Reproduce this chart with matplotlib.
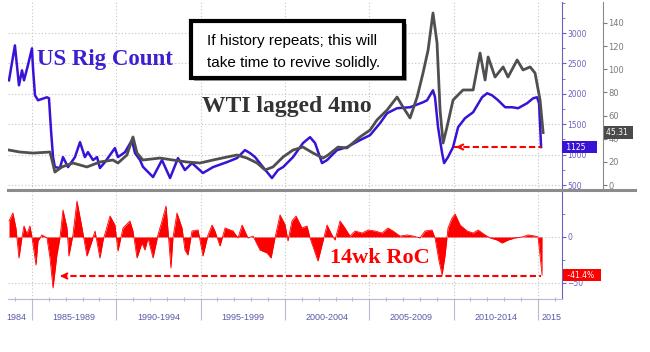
import matplotlib.pyplot as plt
from matplotlib.lines import Line2D
from matplotlib.patches import Rectangle
from matplotlib.ticker import MultipleLocator
import matplotlib.transforms as mtransforms

# US rig count
rig_years = [1983.64, 1983.99, 1984.23, 1984.41, 1984.53, 1984.76, 1985.00, 1985.06, 1985.18, 1985.36,
             1985.89, 1986.01, 1986.13, 1986.25, 1986.36, 1986.66, 1986.84, 1987.14, 1987.55, 1987.85,
             1988.14, 1988.32, 1988.62, 1988.86, 1989.03, 1989.33, 1989.92, 1990.10, 1990.52, 1990.93,
             1991.11, 1991.41, 1991.58, 1992.18, 1992.71, 1993.19, 1993.66, 1994.07, 1994.49, 1995.14,
             1995.74, 1996.57, 1997.16, 1997.63, 1997.93, 1998.23, 1998.70, 1999.23, 1999.59, 1999.89,
             2000.48, 2001.07, 2001.49, 2001.79, 2002.20, 2002.50, 2003.09, 2003.68, 2004.45, 2005.05,
             2005.64, 2006.06, 2006.65, 2007.42, 2008.19, 2008.43, 2008.78, 2008.90, 2009.08, 2009.32,
             2009.44, 2009.67, 2009.97, 2010.27, 2010.68, 2011.16, 2011.69, 2011.99, 2012.28, 2012.64,
             2013.06, 2013.47, 2013.83, 2014.36, 2014.72, 2014.95, 2015.07, 2015.19]
rig_count = [2222, 2796, 2140, 2386, 2222, 2468, 2747, 2435, 1976, 1894,
             1943, 1927, 1402, 959, 795, 779, 959, 795, 959, 1205,
             959, 1041, 910, 959, 779, 877, 1107, 959, 1041, 1238,
             1025, 910, 800, 631, 910, 615, 943, 746, 861, 697,
             795, 877, 943, 1074, 1025, 959, 795, 615, 746, 795,
             959, 1189, 1287, 1189, 861, 910, 1074, 1123, 1238, 1320,
             1517, 1681, 1763, 1779, 1861, 1894, 2058, 1943, 1451, 1025,
             861, 959, 1123, 1451, 1599, 1697, 1943, 2009, 1976, 1894,
             1779, 1779, 1763, 1845, 1927, 1943, 1845, 1125]

# WTI, lagged 4 months
wti_years = [1983.64, 1984.29, 1985.06, 1986.07, 1986.19, 1986.36, 1986.78, 1987.43, 1988.26, 1989.03,
             1989.80, 1990.10, 1990.63, 1990.99, 1991.23, 1991.58, 1992.59, 1993.36, 1994.19, 1994.96,
             1995.74, 1996.57, 1997.16, 1997.75, 1998.35, 1998.82, 1999.29, 1999.89, 2000.48, 2001.07,
             2001.67, 2002.26, 2002.56, 2003.15, 2003.68, 2004.45, 2005.05, 2005.46, 2006.06, 2006.65,
             2007.00, 2007.42, 2007.84, 2008.19, 2008.49, 2008.78, 2009.02, 2009.20, 2009.38, 2009.61,
             2009.97, 2010.56, 2011.16, 2011.57, 2011.87, 2012.05, 2012.46, 2012.94, 2013.23, 2013.77,
             2014.12, 2014.54, 2014.83, 2015.13, 2015.31]
wti_price = [30.2, 28.5, 27.6, 28.5, 21.6, 11.2, 15.6, 19.0, 15.6, 19.9,
             21.6, 19.0, 25.9, 41.5, 27.6, 21.6, 23.3, 21.6, 19.9, 19.0,
             21.6, 24.2, 25.9, 23.3, 19.0, 13.0, 15.6, 24.2, 30.2, 32.8,
             27.6, 23.3, 25.9, 32.8, 32.0, 41.5, 47.5, 56.2, 64.8, 76.0,
             67.4, 57.9, 76.0, 96.8, 116.6, 148.6, 122.7, 64.8, 36.3, 50.1,
             73.4, 82.1, 82.1, 114.0, 90.7, 110.6, 93.3, 102.0, 93.3, 108.0,
             99.4, 102.0, 96.8, 73.4, 45.31]

# 14 week rate of change of the rig count (%)
roc_years = [1983.64, 1983.87, 1984.05, 1984.23, 1984.41, 1984.53, 1984.70, 1984.88, 1985.00, 1985.24,
             1985.36, 1985.59, 1985.89, 1986.07, 1986.25, 1986.48, 1986.66, 1986.84, 1987.08, 1987.19,
             1987.43, 1987.67, 1987.97, 1988.26, 1988.56, 1988.74, 1989.03, 1989.21, 1989.63, 1989.92,
             1990.10, 1990.40, 1990.81, 1990.99, 1991.23, 1991.52, 1991.70, 1991.88, 1992.18, 1992.47,
             1992.71, 1992.95, 1993.07, 1993.24, 1993.36, 1993.60, 1993.90, 1994.07, 1994.25, 1994.49,
             1994.85, 1995.14, 1995.44, 1995.68, 1995.85, 1996.15, 1996.45, 1996.92, 1997.22, 1997.46,
             1997.81, 1998.11, 1998.52, 1998.94, 1999.18, 1999.41, 1999.71, 2000.01, 2000.18, 2000.42,
             2000.66, 2001.01, 2001.31, 2001.49, 2001.96, 2002.26, 2002.50, 2002.79, 2002.97, 2003.27,
             2003.56, 2003.86, 2004.16, 2004.57, 2004.93, 2005.34, 2005.76, 2006.11, 2006.41, 2006.83,
             2007.24, 2007.60, 2008.01, 2008.31, 2008.72, 2008.90, 2009.14, 2009.32, 2009.50, 2009.67,
             2009.91, 2010.09, 2010.39, 2010.80, 2011.16, 2011.45, 2011.87, 2012.17, 2012.58, 2012.88,
             2013.23, 2013.65, 2014.06, 2014.42, 2014.83, 2015.01, 2015.25]
roc_values = [17.4, 26.1, 9.8, -22.8, 0.0, 12.0, 3.3, 12.0, 0.0, -30.4,
              -4.3, 2.2, -1.0, -22.8, -55.4, -19.6, -1.0, 29.3, 9.8, -20.7,
              2.2, 39.1, 9.8, -20.7, -4.3, 6.5, -22.8, -4.3, 22.8, 13.0,
              -15.2, 9.8, 17.4, 6.5, -22.8, -6.5, -14.1, -1.0, -22.8, 2.2,
              17.4, 33.7, 6.5, -33.7, -1.0, 26.1, 9.8, -14.1, -19.6, 6.5,
              7.6, -20.7, 2.2, 13.0, 6.5, -9.8, 9.8, 6.5, -1.0, 13.0,
              -1.0, 1.0, -14.1, -17.4, -22.8, -1.0, 24.0, 13.4, -4.3, 17.4,
              22.8, 9.8, 12.0, -1.0, -26.1, -4.3, 13.0, 2.2, -3.3, 17.4,
              9.8, 1.0, 6.5, 4.3, 7.6, 6.5, 4.3, 9.8, 6.5, 1.0,
              2.2, 1.0, -1.0, 6.5, 7.6, -1.0, -26.1, -41.3, -19.6, 9.8,
              20.7, 25.0, 13.0, 6.5, 4.3, 7.6, 2.2, -1.0, -3.3, -6.5,
              -3.3, -1.0, 0.0, 2.2, 1.0, 0.0, -41.4]

period_labels = ["1984", "1985-1989", "1990-1994", "1995-1999", "2000-2004", "2005-2009", "2010-2014", "2015"]
period_centers = [1984.1, 1987.5, 1992.5, 1997.5, 2002.5, 2007.5, 2012.5, 2015.8]
major_years = [1985, 1990, 1995, 2000, 2005, 2010, 2015]
rig_ticks = [500, 1000, 1500, 2000, 2500, 3000]
wti_ticks = [0, 20, 40, 60, 80, 100, 120, 140]

BLUE = "#3a12d6"
GREY = "#4f4f4f"
RED = "#ff0000"
PURPLE = "#6a60c0"
LIGHT = "#b8b8d8"
W, H = 650, 352

fig = plt.figure(figsize=(6.5, 3.52), dpi=100)


def fx(x):
    return x / W


def fy(y):
    return 1 - y / H


ax = fig.add_axes([fx(8), fy(190), 554 / W, 188 / H])
axb = fig.add_axes([fx(8), fy(299), 554 / W, 107 / H])
ax2 = ax.twinx()
xlim = (1983.58, 2016.43)

# ---- top panel: rig count + WTI
ax.set_xlim(*xlim)
ax.set_ylim(418, 3510)
for s in ["top", "left", "bottom"]:
    ax.spines[s].set_visible(False)
ax.spines["right"].set_color(PURPLE)
ax.spines["right"].set_linewidth(0.8)
ax.yaxis.tick_right()
ax.set_yticks(rig_ticks)
ax.yaxis.set_minor_locator(MultipleLocator(250))
ax.tick_params(axis="y", which="both", colors=PURPLE, labelsize=5.5, length=3, pad=1, direction="out",
               left=False, labelleft=False, right=True, labelright=True)
ax.tick_params(axis="y", which="minor", length=2)
ax.set_xticks(major_years)
ax.tick_params(axis="x", length=0, labelbottom=False)
ax.grid(True, linestyle=(0, (1, 2)), color="#c4c4c4", linewidth=0.8)
ax.plot(rig_years, rig_count, color=BLUE, lw=1.8, zorder=3)

ax2.set_xlim(*xlim)
ax2.set_ylim(-4.3, 158.1)
for s in ["top", "left", "bottom"]:
    ax2.spines[s].set_visible(False)
ax2.spines["right"].set_position(("axes", 1 + 41 / 554))
ax2.spines["right"].set_color("#8a8a8a")
ax2.spines["right"].set_linewidth(0.8)
ax2.set_yticks(wti_ticks)
ax2.tick_params(axis="y", colors="#7a7a7a", labelsize=6, length=3, pad=1)
ax2.plot(wti_years, wti_price, color=GREY, lw=2.0, zorder=2)

# value tags on the right
blend = mtransforms.blended_transform_factory(ax.transAxes, ax.transData)
ax.text(1.004, rig_count[-1], " 1125    ", transform=blend, color="white", fontsize=5.5,
        va="center", ha="left", zorder=6, clip_on=False,
        bbox=dict(boxstyle="square,pad=0.25", fc=BLUE, ec="none"))
blend2 = mtransforms.blended_transform_factory(ax2.transAxes, ax2.transData)
ax2.text(1.08, wti_price[-1], "45.31 ", transform=blend2, color="white", fontsize=5.5,
         va="center", ha="left", zorder=6, clip_on=False,
         bbox=dict(boxstyle="square,pad=0.3", fc="#4a4a4a", ec="none"))

# red dashed arrow at the top (drawn at the latest rig count)
ax.plot([2010.05, 2015.17], [rig_count[-1], rig_count[-1]], color=RED, lw=1.5, ls=(0, (3, 1.5)), zorder=5)
ax.annotate("", xy=(2009.97, rig_count[-1]), xytext=(2010.6, rig_count[-1]),
            arrowprops=dict(arrowstyle="->", color=RED, lw=1.5, mutation_scale=9), zorder=5)

# ---- bottom panel: 14wk RoC
axb.set_xlim(*xlim)
axb.set_ylim(-67.4, 48.9)
for s in ["top", "left"]:
    axb.spines[s].set_visible(False)
axb.spines["right"].set_color(PURPLE)
axb.spines["right"].set_linewidth(0.8)
axb.spines["bottom"].set_color(LIGHT)
axb.yaxis.tick_right()
axb.set_yticks([-50, 0])
axb.yaxis.set_minor_locator(MultipleLocator(25))
axb.tick_params(axis="y", which="both", colors=PURPLE, labelsize=5.5, length=3, pad=1)
axb.tick_params(axis="y", which="minor", length=2)
axb.set_xticks(major_years)
axb.xaxis.set_minor_locator(MultipleLocator(1))
axb.tick_params(axis="x", which="major", length=15, color=LIGHT, width=0.8, labelbottom=False)
axb.tick_params(axis="x", which="minor", length=3, color=LIGHT, direction="inout", width=0.8)
axb.grid(True, linestyle=(0, (1, 2)), color="#c4c4c4", linewidth=0.8)
axb.fill_between(roc_years, roc_values, 0, color=RED, lw=0, zorder=3)
axb.plot(roc_years, roc_values, color=RED, lw=0.6, zorder=3)

blendb = mtransforms.blended_transform_factory(axb.transData, axb.transAxes)
for lab, c in zip(period_labels, period_centers):
    axb.text(c, -0.17, lab, transform=blendb, ha="center", va="center", fontsize=6.5,
             color="#5a5aa8", family="Liberation Sans", clip_on=False)

blendb2 = mtransforms.blended_transform_factory(axb.transAxes, axb.transData)
axb.text(1.006, roc_values[-1], " -41.4%  ", transform=blendb2, color="white", fontsize=5.5,
         va="center", ha="left", zorder=6, clip_on=False,
         bbox=dict(boxstyle="square,pad=0.25", fc=RED, ec="none"))

axb.plot([1986.75, 2015.2], [-42.4, -42.4], color=RED, lw=1.5, ls=(0, (3, 1.5)), zorder=5)
axb.annotate("", xy=(1986.5, -42.4), xytext=(1987.2, -42.4),
             arrowprops=dict(arrowstyle="->", color=RED, lw=1.5, mutation_scale=9), zorder=5)

# ---- separator between panels
fig.add_artist(Line2D([fx(8), fx(635)], [fy(190), fy(190)], color="#8c8c8c", lw=2.2))

# ---- annotations
fig.text(fx(37), fy(65), "US Rig Count", color="#3d1fd0", fontsize=16.5, fontweight="bold",
         family="Liberation Serif", va="baseline", ha="left")
fig.text(fx(202), fy(112), "WTI lagged 4mo", color="#333333", fontsize=17, fontweight="bold",
         family="Liberation Serif", va="baseline", ha="left")
fig.text(fx(330), fy(263), "14wk RoC", color=RED, fontsize=16, fontweight="bold",
         family="Liberation Serif", va="baseline", ha="left", zorder=6)

fig.add_artist(Rectangle((fx(194), fy(81)), 213 / W, 57 / H, transform=fig.transFigure,
                         fc="#9a9a9a", ec="none", zorder=4))
fig.add_artist(Rectangle((fx(190.5), fy(77.5)), 213 / W, 57 / H, transform=fig.transFigure,
                         fc="white", ec="black", lw=3, zorder=5))
fig.text(fx(207), fy(45), "If history repeats; this will", fontsize=11, family="Liberation Sans",
         va="baseline", ha="left", zorder=6)
fig.text(fx(207), fy(67), "take time to revive solidly.", fontsize=11, family="Liberation Sans",
         va="baseline", ha="left", zorder=6)

fig.savefig("out.png", dpi=100)
